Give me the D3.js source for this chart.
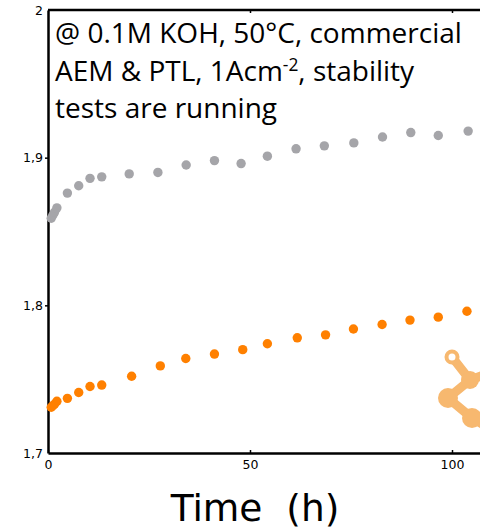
<!DOCTYPE html>
<html>
<head>
<meta charset="utf-8">
<script src="https://cdn.jsdelivr.net/npm/d3@7"></script>
<style>
  body { margin: 0; background: #fff; }
  svg { display: block; }
  .axis text { font-family: "DejaVu Sans", sans-serif; font-size: 12.5px; fill: #000; }
</style>
</head>
<body>
<div id="chart"></div>
<script>
// time (h) and cell voltage (V)
var greyTime = [0.8, 1.2, 1.6, 2.2, 4.8, 7.6, 10.4, 13.3, 20.1, 27.2, 34.2, 41.2, 47.8, 54.3, 61.4, 68.4, 75.7, 82.8, 89.8, 96.6, 104];
var greyVolt = [1.859, 1.861, 1.863, 1.866, 1.876, 1.881, 1.886, 1.887, 1.889, 1.890, 1.895, 1.898, 1.896, 1.901, 1.906, 1.908, 1.910, 1.914, 1.917, 1.915, 1.918];

var orangeTime = [0.8, 1.2, 1.6, 2.2, 4.8, 7.6, 10.4, 13.3, 20.7, 27.8, 34.1, 41.2, 48.2, 54.3, 61.7, 68.7, 75.6, 82.7, 89.6, 96.6, 103.7];
var orangeVolt = [1.731, 1.732, 1.733, 1.735, 1.737, 1.741, 1.745, 1.746, 1.752, 1.759, 1.764, 1.767, 1.770, 1.774, 1.778, 1.780, 1.784, 1.787, 1.790, 1.792, 1.796];

var xTicks = [0, 50, 100];
var yTicks = [1.7, 1.8, 1.9, 2.0];

var width = 480, height = 531;
var margin = { top: 10, left: 48, bottom: 78 };
var plotH = height - margin.top - margin.bottom;

var svg = d3.select("#chart").append("svg")
  .attr("width", width)
  .attr("height", height);

var x = d3.scaleLinear().domain([0, 110]).range([margin.left, margin.left + 110 * 4.04]);
var y = d3.scaleLinear().domain([1.7, 2.0]).range([margin.top + plotH, margin.top]);

var fmt = d => d === 2 ? "2" : d3.format(".1f")(d).replace(".", ",");

// frame
var frame = svg.append("g").attr("fill", "none").attr("stroke", "#000").attr("stroke-width", 2.5);
frame.append("line").attr("x1", x(0)).attr("x2", x(110)).attr("y1", y(2)).attr("y2", y(2));

var xAxis = svg.append("g")
  .attr("class", "axis")
  .attr("transform", `translate(0,${y(1.7)})`)
  .call(d3.axisBottom(x).tickValues(xTicks).tickSizeInner(-3).tickSizeOuter(0).tickPadding(7));
xAxis.select(".domain").attr("stroke-width", 2.5);
xAxis.selectAll(".tick line").attr("stroke-width", 1.5);

var xTop = svg.append("g")
  .attr("transform", `translate(0,${y(2)})`)
  .call(d3.axisTop(x).tickValues(xTicks.slice(1)).tickSizeInner(-3).tickSizeOuter(0).tickFormat(""));
xTop.select(".domain").remove();
xTop.selectAll(".tick line").attr("stroke-width", 1.5);

var yAxis = svg.append("g")
  .attr("class", "axis")
  .attr("transform", `translate(${x(0)},0)`)
  .call(d3.axisLeft(y).tickValues(yTicks).tickSize(3).tickSizeOuter(0).tickPadding(2).tickFormat(fmt));
yAxis.select(".domain").attr("stroke-width", 2.5);
yAxis.selectAll(".tick line").attr("stroke-width", 1.5);
yAxis.selectAll(".tick").filter(d => d === 1.7 || d === 2).select("line").remove();

// logo in the corner
var logo = svg.append("g").attr("fill", "#f7b86f").attr("stroke", "#f7b86f");
logo.append("path")
  .attr("d", "M452,357 L470,380 L448,398 L472,418 L492,430 M470,380 L492,372")
  .attr("fill", "none").attr("stroke-width", 9).attr("stroke-linecap", "round");
logo.append("circle").attr("cx", 452).attr("cy", 357).attr("r", 5.5).attr("fill", "#fff").attr("stroke-width", 4);
logo.append("circle").attr("cx", 470).attr("cy", 380).attr("r", 9).attr("stroke", "none");
logo.append("circle").attr("cx", 448).attr("cy", 398).attr("r", 10).attr("stroke", "none");
logo.append("circle").attr("cx", 472).attr("cy", 418).attr("r", 10).attr("stroke", "none");

// points
var grey = greyTime.map((t, i) => ({ t: t, v: greyVolt[i] }));
var orange = orangeTime.map((t, i) => ({ t: t, v: orangeVolt[i] }));

svg.append("g").selectAll("circle").data(grey).enter().append("circle")
  .attr("cx", d => x(d.t)).attr("cy", d => y(d.v)).attr("r", 4.7).attr("fill", "#a5a5a9");
svg.append("g").selectAll("circle").data(orange).enter().append("circle")
  .attr("cx", d => x(d.t)).attr("cy", d => y(d.v)).attr("r", 4.7).attr("fill", "#ff8000");

// annotation
var note = svg.append("g")
  .attr("font-family", "'Open Sans', sans-serif")
  .attr("fill", "#000");
var l1 = note.append("text").attr("x", 55).attr("y", 43).text("@ 0.1M KOH, 50°C, commercial");
var fs = 26 * 407 / l1.node().getComputedTextLength() * 1;
l1.attr("font-size", 26);
fs = 26 * 407 / l1.node().getComputedTextLength();
note.attr("font-size", fs);
l1.attr("font-size", null);
var l2 = note.append("text").attr("x", 55).attr("y", 81);
l2.append("tspan").text("AEM & PTL, 1Acm");
l2.append("tspan").attr("font-size", fs * 0.62).attr("dy", -fs * 0.36).text("-2");
l2.append("tspan").attr("dy", fs * 0.36).text(", stability");
note.append("text").attr("x", 55).attr("y", 118).text("tests are running");

// axis title
svg.append("text")
  .attr("x", 255).attr("y", 521)
  .attr("text-anchor", "middle")
  .attr("font-family", "'DejaVu Sans', sans-serif")
  .attr("font-size", 37.5)
  .style("white-space", "pre")
  .text("Time  (h)");
</script>
</body>
</html>
